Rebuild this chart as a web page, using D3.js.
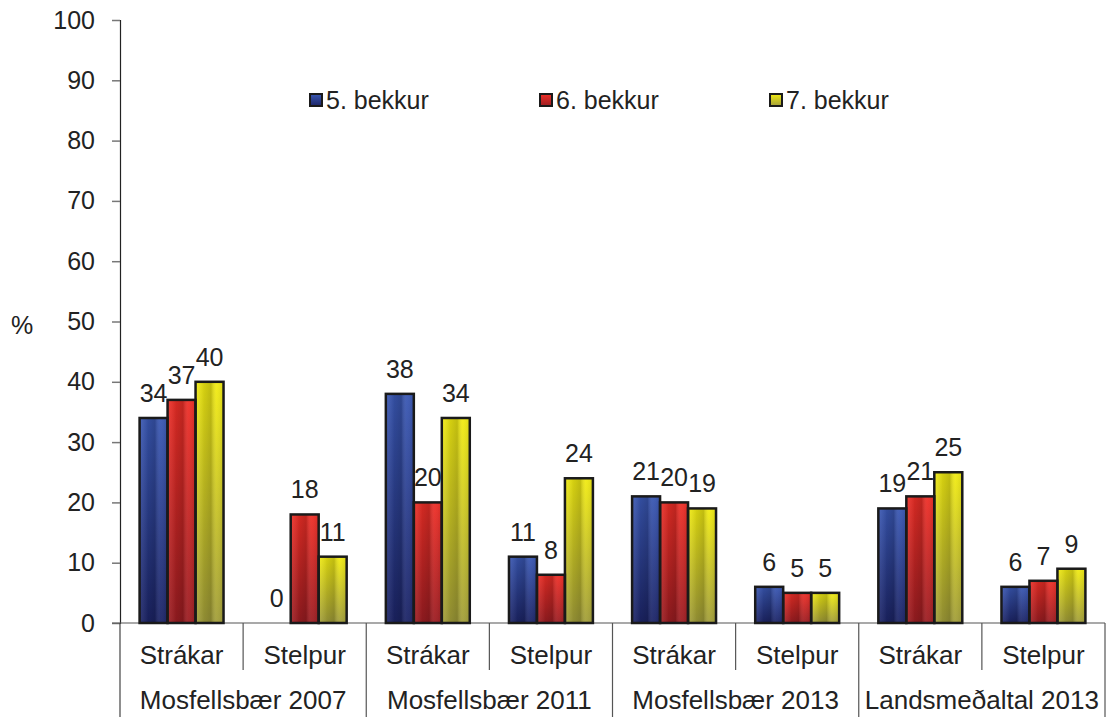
<!DOCTYPE html>
<html>
<head>
<meta charset="utf-8">
<script src="https://cdn.jsdelivr.net/npm/d3@7"></script>
<style>
  body { margin: 0; background: #fff; }
  text { font-family: "Liberation Sans", Arial, sans-serif; fill: #222; }
</style>
</head>
<body>
<svg width="1113" height="717"></svg>
<script>
var groups = ["Mosfellsbær 2007", "Mosfellsbær 2011", "Mosfellsbær 2013", "Landsmeðaltal 2013"];
var subgroups = ["Strákar", "Stelpur"];
var series = ["5. bekkur", "6. bekkur", "7. bekkur"];
var yTicks = [0, 10, 20, 30, 40, 50, 60, 70, 80, 90, 100];

// one value per series for each (group, subgroup) pair, in order
var bekkur5 = [34, 0, 38, 11, 21, 6, 19, 6];
var bekkur6 = [37, 18, 20, 8, 20, 5, 21, 7];
var bekkur7 = [40, 11, 34, 24, 19, 5, 25, 9];

var colors = [
  {top: "#3a58b4", bot: "#1c2466"},
  {top: "#ef2f27", bot: "#9c1d22"},
  {top: "#f2ec12", bot: "#a29e3a"}
];

var svg = d3.select("svg"),
    mLeft = 120, mRight = 1105, mTop = 20, mBottom = 623;

var cats = [];
groups.forEach(function(g) {
  subgroups.forEach(function(s) { cats.push(g + "|" + s); });
});

var data = cats.map(function(c, i) {
  return {cat: c, values: [bekkur5[i], bekkur6[i], bekkur7[i]]};
});

var x0 = d3.scaleBand().domain(cats).range([mLeft, mRight]);
var x1 = d3.scaleBand().domain(d3.range(3)).range([0, x0.bandwidth()]).paddingOuter(0.7);
var y = d3.scaleLinear().domain([0, 100]).range([mBottom, mTop]);

// gradients
var defs = svg.append("defs");
colors.forEach(function(c, i) {
  var g = defs.append("linearGradient").attr("id", "g" + i)
      .attr("x1", 0).attr("y1", 0).attr("x2", 0).attr("y2", 1);
  g.append("stop").attr("offset", "0%").attr("stop-color", c.top);
  g.append("stop").attr("offset", "100%").attr("stop-color", c.bot);
});
var sh = defs.append("linearGradient").attr("id", "shade")
    .attr("x1", 0).attr("y1", 0).attr("x2", 1).attr("y2", 0);
[[0, "#fff", 0.08], [0.3, "#000", 0.12], [0.55, "#000", 0.2], [0.75, "#fff", 0.05], [1, "#000", 0.1]]
  .forEach(function(s) {
    sh.append("stop").attr("offset", s[0]).attr("stop-color", s[1]).attr("stop-opacity", s[2]);
  });

// y axis
var yAxis = d3.axisLeft(y).tickValues(yTicks).tickSize(8).tickPadding(17);
var ya = svg.append("g").attr("transform", "translate(" + mLeft + ",0)").call(yAxis);
ya.select(".domain").attr("stroke", "#222").attr("stroke-width", 1.2);
ya.selectAll(".tick line").attr("stroke", "#777").attr("stroke-width", 1.5);
ya.selectAll(".tick text").style("font-size", "25px").attr("fill", "#222")
  .style("font-family", "'Liberation Sans', Arial, sans-serif");

svg.append("text").attr("x", 22).attr("y", 334).attr("text-anchor", "middle")
  .style("font-size", "25px").text("%");

// x axis line and dividers
svg.append("line").attr("x1", mLeft - 8).attr("x2", mRight).attr("y1", mBottom).attr("y2", mBottom)
  .attr("stroke", "#555").attr("stroke-width", 1.2);
svg.append("line").attr("x1", mLeft).attr("x2", mLeft).attr("y1", mBottom).attr("y2", 717)
  .attr("stroke", "#444").attr("stroke-width", 1.2);
cats.forEach(function(c, i) {
  var xr = x0(c) + x0.bandwidth();
  var major = i % 2 === 1;
  svg.append("line").attr("x1", xr).attr("x2", xr).attr("y1", mBottom)
    .attr("y2", major ? 717 : 670)
    .attr("stroke", "#555").attr("stroke-width", 1.2);
  svg.append("text").attr("x", x0(c) + x0.bandwidth() / 2).attr("y", 664)
    .attr("text-anchor", "middle").style("font-size", "26px").text(c.split("|")[1]);
});
groups.forEach(function(g, i) {
  var xs = x0(g + "|" + subgroups[0]);
  svg.append("text").attr("x", xs + x0.bandwidth()).attr("y", 709)
    .attr("text-anchor", "middle").style("font-size", "26px").text(g);
});

// bars
var cat = svg.selectAll(".cat").data(data).enter().append("g")
    .attr("class", "cat")
    .attr("transform", function(d) { return "translate(" + x0(d.cat) + ",0)"; });

var bar = cat.selectAll(".bar")
  .data(function(d) { return d.values.map(function(v, i) { return {i: i, v: v}; }); })
  .enter();

bar.filter(function(d) { return d.v > 0; }).append("rect")
    .attr("x", function(d) { return x1(d.i); })
    .attr("y", function(d) { return y(d.v); })
    .attr("width", x1.bandwidth())
    .attr("height", function(d) { return mBottom - y(d.v); })
    .attr("fill", function(d) { return "url(#g" + d.i + ")"; });
bar.filter(function(d) { return d.v > 0; }).append("rect")
    .attr("x", function(d) { return x1(d.i); })
    .attr("y", function(d) { return y(d.v); })
    .attr("width", x1.bandwidth())
    .attr("height", function(d) { return mBottom - y(d.v); })
    .attr("fill", "url(#shade)")
    .attr("stroke", "#1a1a1a").attr("stroke-width", 2.5);

bar.append("text")
    .attr("x", function(d) { return x1(d.i) + x1.bandwidth() / 2; })
    .attr("y", function(d) { return y(d.v) - 16; })
    .attr("text-anchor", "middle")
    .style("font-size", "25px")
    .text(function(d) { return d.v; });

// legend
var legX = [310, 540, 770];
series.forEach(function(s, i) {
  svg.append("rect").attr("x", legX[i]).attr("y", 94).attr("width", 12).attr("height", 12)
    .attr("fill", "url(#g" + i + ")").attr("stroke", "#1a1a1a").attr("stroke-width", 2);
  svg.append("text").attr("x", legX[i] + 16).attr("y", 109)
    .style("font-size", "25px").text(s);
});
</script>
</body>
</html>
